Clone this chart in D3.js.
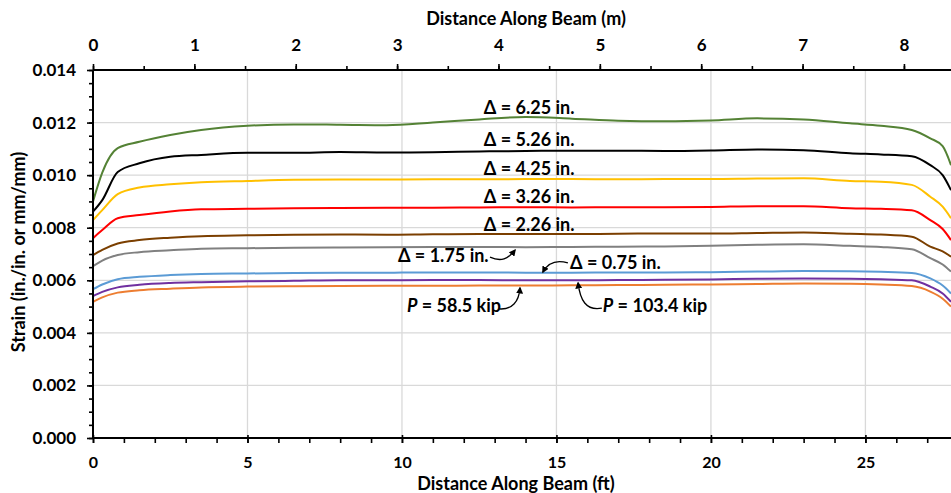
<!DOCTYPE html>
<html>
  <head>
    <title>Strain Along Beam</title>
    <script src="https://d3js.org/d3.v7.min.js"></script>
    <style>
      body { margin: 0; background: #fff; }
      text { font-family: Lato, "Open Sans", sans-serif; font-weight: bold; }
    </style>
  </head>
  <body>
    <svg id="chart" width="951" height="493"></svg>
    <script>
      // distance along beam (ft)
      let xFt = [0, 0.3, 0.8, 1.5, 2.5, 3.5, 5, 6.5, 8, 9.5, 11, 12.5, 14, 15.5, 17,
                 18.5, 20, 21.5, 23, 24.5, 25.5, 26.5, 27.1, 27.5, 27.77];

      let d625 = [0.0090, 0.0101, 0.01103, 0.01127, 0.01153, 0.01172, 0.01188, 0.01193, 0.01192, 0.01190, 0.01200, 0.01212, 0.01221,
                  0.01215, 0.01207, 0.01205, 0.01208, 0.01216, 0.01212, 0.01197, 0.01188, 0.01172, 0.0114, 0.0111, 0.01038];
      let d526 = [0.00861, 0.00905, 0.01012, 0.01045, 0.0107, 0.01077, 0.01085, 0.01085, 0.01088, 0.01086, 0.01087, 0.0109, 0.01092,
                  0.01093, 0.01093, 0.01092, 0.01094, 0.01098, 0.01095, 0.01083, 0.01079, 0.01072, 0.01038, 0.0100, 0.00943];
      let d425 = [0.00829, 0.00867, 0.00928, 0.00953, 0.00965, 0.00973, 0.00978, 0.00982, 0.00983, 0.00983, 0.00984, 0.00984, 0.00985,
                  0.00985, 0.00984, 0.00985, 0.00985, 0.00987, 0.00988, 0.00978, 0.00975, 0.00963, 0.00918, 0.0088, 0.00836];
      let d326 = [0.0076, 0.00791, 0.00836, 0.00848, 0.00862, 0.0087, 0.00872, 0.00874, 0.00875, 0.00876, 0.00876, 0.00877, 0.00878,
                  0.00877, 0.00878, 0.00878, 0.00879, 0.00882, 0.00882, 0.00874, 0.00872, 0.00866, 0.00829, 0.00795, 0.00753];
      let d226 = [0.00696, 0.00716, 0.0074, 0.00753, 0.00762, 0.00768, 0.00771, 0.00773, 0.00774, 0.00773, 0.00775, 0.00776, 0.00776,
                  0.00776, 0.00777, 0.00778, 0.00778, 0.0078, 0.00782, 0.00777, 0.00774, 0.00766, 0.00728, 0.0071, 0.0069];
      let d175 = [0.00654, 0.00675, 0.00696, 0.00707, 0.00714, 0.0072, 0.00722, 0.00724, 0.00725, 0.00726, 0.00727, 0.00727, 0.00726,
                  0.00727, 0.00728, 0.00729, 0.00731, 0.00735, 0.00737, 0.00731, 0.00727, 0.00718, 0.00684, 0.0066, 0.00633];
      let d075 = [0.00566, 0.00584, 0.00604, 0.00613, 0.0062, 0.00624, 0.00626, 0.00628, 0.00629, 0.00629, 0.0063, 0.0063, 0.00629,
                  0.00629, 0.0063, 0.0063, 0.00631, 0.00633, 0.00635, 0.00634, 0.00632, 0.00628, 0.00607, 0.0058, 0.0055];
      let p1034 = [0.0054, 0.00556, 0.00573, 0.00583, 0.0059, 0.00593, 0.00596, 0.00598, 0.006, 0.006, 0.00601, 0.00601, 0.006,
                   0.006, 0.00601, 0.00602, 0.00603, 0.00606, 0.00607, 0.00606, 0.00604, 0.006, 0.00576, 0.0055, 0.00518];
      let p585 = [0.00518, 0.00535, 0.00553, 0.00562, 0.00568, 0.00573, 0.00576, 0.00577, 0.00578, 0.00579, 0.00579, 0.0058, 0.0058,
                  0.00581, 0.00582, 0.00583, 0.00584, 0.00586, 0.00588, 0.00587, 0.00584, 0.00578, 0.00557, 0.0053, 0.005];

      let seriesValues = [d625, d526, d425, d326, d226, d175, d075, p1034, p585];
      let seriesColors = ["#548235", "#000000", "#FFC000", "#FF0000", "#7B3F00", "#808080", "#5B9BD5", "#7030A0", "#ED7D31"];

      let yTicks = [0, 0.002, 0.004, 0.006, 0.008, 0.010, 0.012, 0.014];
      let ftTicks = [0, 5, 10, 15, 20, 25];
      let mTicks = [0, 1, 2, 3, 4, 5, 6, 7, 8];

      let svg = d3.select("#chart");
      let pLeft = 93, pRight = 951, pTop = 70, pBottom = 438;
      let xMax = 27.77;

      let x = d3.scaleLinear().domain([0, xMax]).range([pLeft, pRight]);
      let xm = d3.scaleLinear().domain([0, xMax * 0.3048]).range([pLeft, pRight]);
      let y = d3.scaleLinear().domain([0, 0.014]).range([pBottom, pTop]);

      // gridlines
      svg.append("g").selectAll("line")
        .data(yTicks.slice(1, -1)).enter().append("line")
        .attr("x1", pLeft).attr("x2", pRight)
        .attr("y1", (d) => y(d)).attr("y2", (d) => y(d))
        .style("stroke", "#d9d9d9").style("stroke-width", 1.3);
      svg.append("g").selectAll("line")
        .data(ftTicks.slice(1)).enter().append("line")
        .attr("x1", (d) => x(d)).attr("x2", (d) => x(d))
        .attr("y1", pTop).attr("y2", pBottom)
        .style("stroke", "#d9d9d9").style("stroke-width", 1.3);

      // series
      let line = d3.line().x((d, i) => x(xFt[i])).y((d) => y(d)).curve(d3.curveMonotoneX);
      svg.append("g").selectAll("path")
        .data(seriesValues).enter().append("path")
        .attr("d", (d) => line(d))
        .style("fill", "none")
        .style("stroke", (d, i) => seriesColors[i])
        .style("stroke-width", 2);

      // axes
      function styleAxis(g, size) {
        g.select(".domain").remove();
        g.selectAll(".tick line").style("stroke", "#000").style("stroke-width", 1.6);
        g.selectAll("text").style("font-size", size + "px").style("fill", "#000")
          .style("font-family", "Lato, sans-serif").style("font-weight", "bold");
      }

      let gl = svg.append("g").attr("transform", `translate(${pLeft},0)`)
        .call(d3.axisLeft(y).tickValues(d3.range(0, 0.01401, 0.0005)).tickSize(4).tickFormat(""));
      styleAxis(gl, 17);
      let glm = svg.append("g").attr("transform", `translate(${pLeft},0)`)
        .call(d3.axisLeft(y).tickValues(yTicks).tickSize(6).tickPadding(11).tickFormat(d3.format(".3f")));
      styleAxis(glm, 17);

      let gb = svg.append("g").attr("transform", `translate(0,${pBottom})`)
        .call(d3.axisBottom(x).tickValues(d3.range(0, 28, 1)).tickSize(5).tickFormat(""));
      styleAxis(gb, 16);
      let gbm = svg.append("g").attr("transform", `translate(0,${pBottom})`)
        .call(d3.axisBottom(x).tickValues(ftTicks).tickSize(5).tickPadding(14).tickFormat(d3.format("d")));
      styleAxis(gbm, 16);
      gbm.selectAll(".tick line").attr("y1", -3);

      let gt = svg.append("g").attr("transform", `translate(0,${pTop})`)
        .call(d3.axisTop(xm).tickValues(d3.range(0, 8.5, 0.5)).tickSize(4).tickFormat(""));
      styleAxis(gt, 17);
      let gtm = svg.append("g").attr("transform", `translate(0,${pTop})`)
        .call(d3.axisTop(xm).tickValues(mTicks).tickSize(6).tickPadding(13).tickFormat(d3.format("d")));
      styleAxis(gtm, 17);

      // axis lines
      svg.append("line").attr("x1", pLeft).attr("x2", pRight).attr("y1", pBottom).attr("y2", pBottom)
        .style("stroke", "#000").style("stroke-width", 2);
      svg.append("line").attr("x1", pLeft).attr("x2", pRight).attr("y1", pTop).attr("y2", pTop)
        .style("stroke", "#000").style("stroke-width", 2);
      svg.append("line").attr("x1", pLeft).attr("x2", pLeft).attr("y1", pTop).attr("y2", pBottom)
        .style("stroke", "#000").style("stroke-width", 2);

      // axis titles
      svg.append("text").attr("x", 526).attr("y", 25).attr("text-anchor", "middle")
        .style("font-size", "18px").text("Distance Along Beam (m)");
      svg.append("text").attr("x", 516).attr("y", 490).attr("text-anchor", "middle")
        .style("font-size", "18px").text("Distance Along Beam (ft)");
      svg.append("text").attr("transform", "translate(25,252) rotate(-90)").attr("text-anchor", "middle")
        .style("font-size", "18px").text("Strain (in./in. or mm/mm)");

      // labels
      let deltaLabels = ["6.25", "5.26", "4.25", "3.26", "2.26"];
      let deltaLabelY = [0.01232, 0.01109, 0.01000, 0.00894, 0.00787];
      svg.append("g").selectAll("text")
        .data(deltaLabels).enter().append("text")
        .attr("x", x(12.65)).attr("y", (d, i) => y(deltaLabelY[i]))
        .style("font-size", "18px")
        .text((d) => "Δ = " + d + " in.");

      svg.append("text").attr("x", x(9.87)).attr("y", y(0.00670)).style("font-size", "18px").text("Δ = 1.75 in.");
      svg.append("text").attr("x", x(15.44)).attr("y", y(0.00643)).style("font-size", "18px").text("Δ = 0.75 in.");
      let t1 = svg.append("text").attr("x", x(10.16)).attr("y", y(0.00479)).style("font-size", "18px");
      t1.append("tspan").style("font-style", "italic").text("P");
      t1.append("tspan").text(" = 58.5 kip");
      let t2 = svg.append("text").attr("x", x(16.5)).attr("y", y(0.00479)).style("font-size", "18px");
      t2.append("tspan").style("font-style", "italic").text("P");
      t2.append("tspan").text(" = 103.4 kip");

      // arrows
      svg.append("defs").append("marker")
        .attr("id", "head").attr("viewBox", "0 0 10 10").attr("refX", 8).attr("refY", 5)
        .attr("markerWidth", 7).attr("markerHeight", 7).attr("markerUnits", "userSpaceOnUse")
        .attr("orient", "auto")
        .append("path").attr("d", "M0,0 L10,5 L0,10 z").style("fill", "#000");

      let arrows = [
        [[12.85, 0.00688], [11, -5], [-7, 9], [13.66, 0.00715]],
        [[15.37, 0.00666], [-10, 3], [6, -11], [14.56, 0.00631]],
        [[13.14, 0.00491], [13, -1], [-1, 14], [13.82, 0.00571]],
        [[16.47, 0.00494], [-16, -3], [2, 17], [15.70, 0.0059]]
      ];
      svg.append("g").selectAll("path")
        .data(arrows).enter().append("path")
        .attr("d", (d) => {
          let sx = x(d[0][0]), sy = y(d[0][1]), ex = x(d[3][0]), ey = y(d[3][1]);
          return `M${sx},${sy} C${sx + d[1][0]},${sy - d[1][1]} ${ex + d[2][0]},${ey + d[2][1]} ${ex},${ey}`;
        })
        .style("fill", "none").style("stroke", "#000").style("stroke-width", 1.3)
        .attr("marker-end", "url(#head)");
    </script>
  </body>
</html>
